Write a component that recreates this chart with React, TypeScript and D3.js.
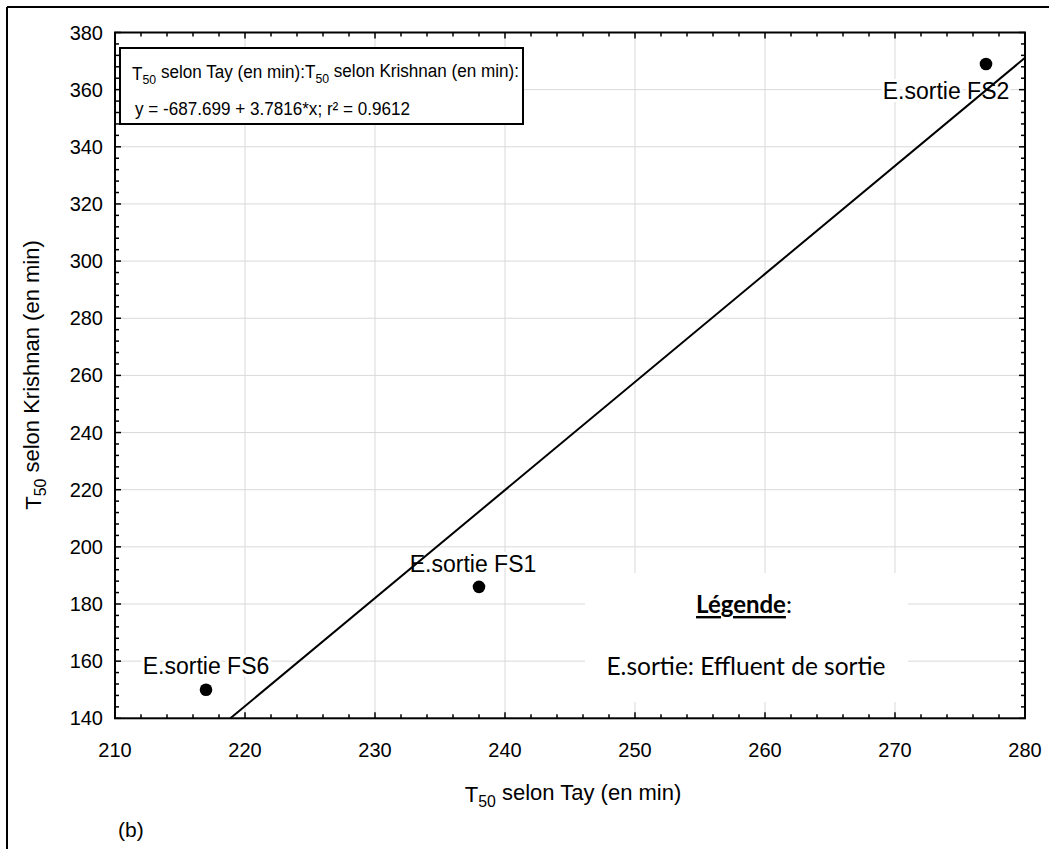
import React from "react";
import * as d3 from "d3";

const xTickValues = [210, 220, 230, 240, 250, 260, 270, 280];
const yTickValues = [140, 160, 180, 200, 220, 240, 260, 280, 300, 320, 340, 360, 380];
const sampleNames = ["E.sortie FS6", "E.sortie FS1", "E.sortie FS2"];
const tayValues = [217, 238, 277];
const krishnanValues = [150, 186, 369];
const regIntercept = -687.699;
const regSlope = 3.7816;
const equationLine2 = "y = -687.699 + 3.7816*x; r² = 0.9612";

const W = 1049;
const H = 849;
const M = { left: 115, right: 1025, top: 32.5, bottom: 718.3 };
const FONT = "'Liberation Sans', Arial, sans-serif";

const labelOffsets = [
  { dx: 0, dy: -24 },
  { dx: -6, dy: -23 },
  { dx: -40, dy: 27 },
];

function Sub({ main, sub, rest }: { main: string; sub: string; rest: string }) {
  return (
    <>
      <tspan>{main}</tspan>
      <tspan fontSize="0.72em" dy="0.3em">{sub}</tspan>
      <tspan dy="-0.3em">{rest}</tspan>
    </>
  );
}

export default function App() {
  const x = d3.scaleLinear().domain([210, 280]).range([M.left, M.right]);
  const y = d3.scaleLinear().domain([140, 380]).range([M.bottom, M.top]);

  const xMinor = d3.range(210, 280.001, 2);
  const yMinor = d3.range(140, 380.001, 4);

  const x0 = (140 - regIntercept) / regSlope;
  const x1 = 280;
  const lineGen = d3.line<number>().x((d) => x(d)).y((d) => y(regIntercept + regSlope * d));

  const points = tayValues.map((t, i) => ({ t, k: krishnanValues[i], name: sampleNames[i] }));

  return (
    <svg width={W} height={H} style={{ position: "absolute", left: 0, top: 0, background: "#fff" }} fontFamily={FONT}>
      <rect x={0} y={0} width={W} height={H} fill="#fff" />
      {/* outer figure border (top, left) */}
      <line x1={7} y1={7} x2={W} y2={7} stroke="#000" strokeWidth={2} />
      <line x1={7} y1={7} x2={7} y2={H} stroke="#000" strokeWidth={2} />

      {/* grid */}
      {xTickValues.map((v) => (
        <line key={"gx" + v} x1={x(v)} x2={x(v)} y1={M.top} y2={M.bottom} stroke="#d9d9d9" strokeWidth={1} />
      ))}
      {yTickValues.map((v) => (
        <line key={"gy" + v} x1={M.left} x2={M.right} y1={y(v)} y2={y(v)} stroke="#d9d9d9" strokeWidth={1} />
      ))}

      {/* legend white box */}
      <rect x={585} y={573} width={323} height={129} fill="#fff" />
      <text x={744} y={603} textAnchor="middle" dominantBaseline="central" fontFamily="Lato, 'Open Sans', sans-serif" fontSize={24}>
        <tspan fontWeight="bold" textDecoration="underline">Légende</tspan>
        <tspan>:</tspan>
      </text>
      <text x={746} y={665} textAnchor="middle" dominantBaseline="central" fontFamily="Lato, 'Open Sans', sans-serif" fontSize={24.5}>
        E.sortie: Effluent de sortie
      </text>

      {/* point labels */}
      {points.map((p, i) => (
        <text
          key={"lab" + i}
          x={x(p.t) + labelOffsets[i].dx}
          y={y(p.k) + labelOffsets[i].dy}
          textAnchor="middle"
          dominantBaseline="central"
          fontSize={23}
          stroke="#fff"
          strokeWidth={6}
          paintOrder="stroke"
          fill="#000"
        >
          {p.name}
        </text>
      ))}

      {/* regression line */}
      <path d={lineGen([x0, x1]) || ""} stroke="#000" strokeWidth={2} fill="none" />

      {/* points */}
      {points.map((p, i) => (
        <circle key={"pt" + i} cx={x(p.t)} cy={y(p.k)} r={6.3} fill="#000" />
      ))}

      {/* ticks */}
      {xMinor.map((v) => {
        const major = v % 10 === 0;
        const len = major ? 6 : 4;
        return (
          <g key={"tx" + v}>
            <line x1={x(v)} x2={x(v)} y1={M.bottom} y2={M.bottom - len} stroke="#000" strokeWidth={1.5} />
            <line x1={x(v)} x2={x(v)} y1={M.top} y2={M.top + len} stroke="#000" strokeWidth={1.5} />
          </g>
        );
      })}
      {yMinor.map((v) => {
        const major = v % 20 === 0;
        const len = major ? 6 : 4;
        return (
          <g key={"ty" + v}>
            <line x1={M.left} x2={M.left + len} y1={y(v)} y2={y(v)} stroke="#000" strokeWidth={1.5} />
            <line x1={M.right} x2={M.right - len} y1={y(v)} y2={y(v)} stroke="#000" strokeWidth={1.5} />
          </g>
        );
      })}

      {/* plot frame */}
      <rect x={M.left} y={M.top} width={M.right - M.left} height={M.bottom - M.top} fill="none" stroke="#000" strokeWidth={2} />

      {/* equation box */}
      <rect x={120} y={48} width={403} height={76} fill="#fff" stroke="#000" strokeWidth={2} />
      <g transform="translate(132, 80) scale(0.9, 1)">
        <text x={0} y={0} fontSize={19}>
          <Sub main="T" sub="50" rest=" selon Tay (en min):" />
          <Sub main="T" sub="50" rest=" selon Krishnan (en min):" />
        </text>
      </g>
      <g transform="translate(135, 115) scale(0.9, 1)">
        <text x={0} y={0} fontSize={19}>
          {equationLine2}
        </text>
      </g>

      {/* tick labels */}
      {yTickValues.map((v) => (
        <text key={"ly" + v} x={103} y={y(v)} textAnchor="end" dominantBaseline="central" fontSize={20}>
          {v}
        </text>
      ))}
      {xTickValues.map((v) => (
        <text key={"lx" + v} x={x(v)} y={750} textAnchor="middle" dominantBaseline="central" fontSize={20}>
          {v}
        </text>
      ))}

      {/* axis titles */}
      <text x={573} y={802} textAnchor="middle" fontSize={22}>
        <Sub main="T" sub="50" rest=" selon Tay (en min)" />
      </text>
      <text transform={`translate(41, 375) rotate(-90)`} textAnchor="middle" fontSize={22}>
        <Sub main="T" sub="50" rest=" selon Krishnan (en min)" />
      </text>

      <text x={118} y={837} fontSize={21}>(b)</text>
    </svg>
  );
}
